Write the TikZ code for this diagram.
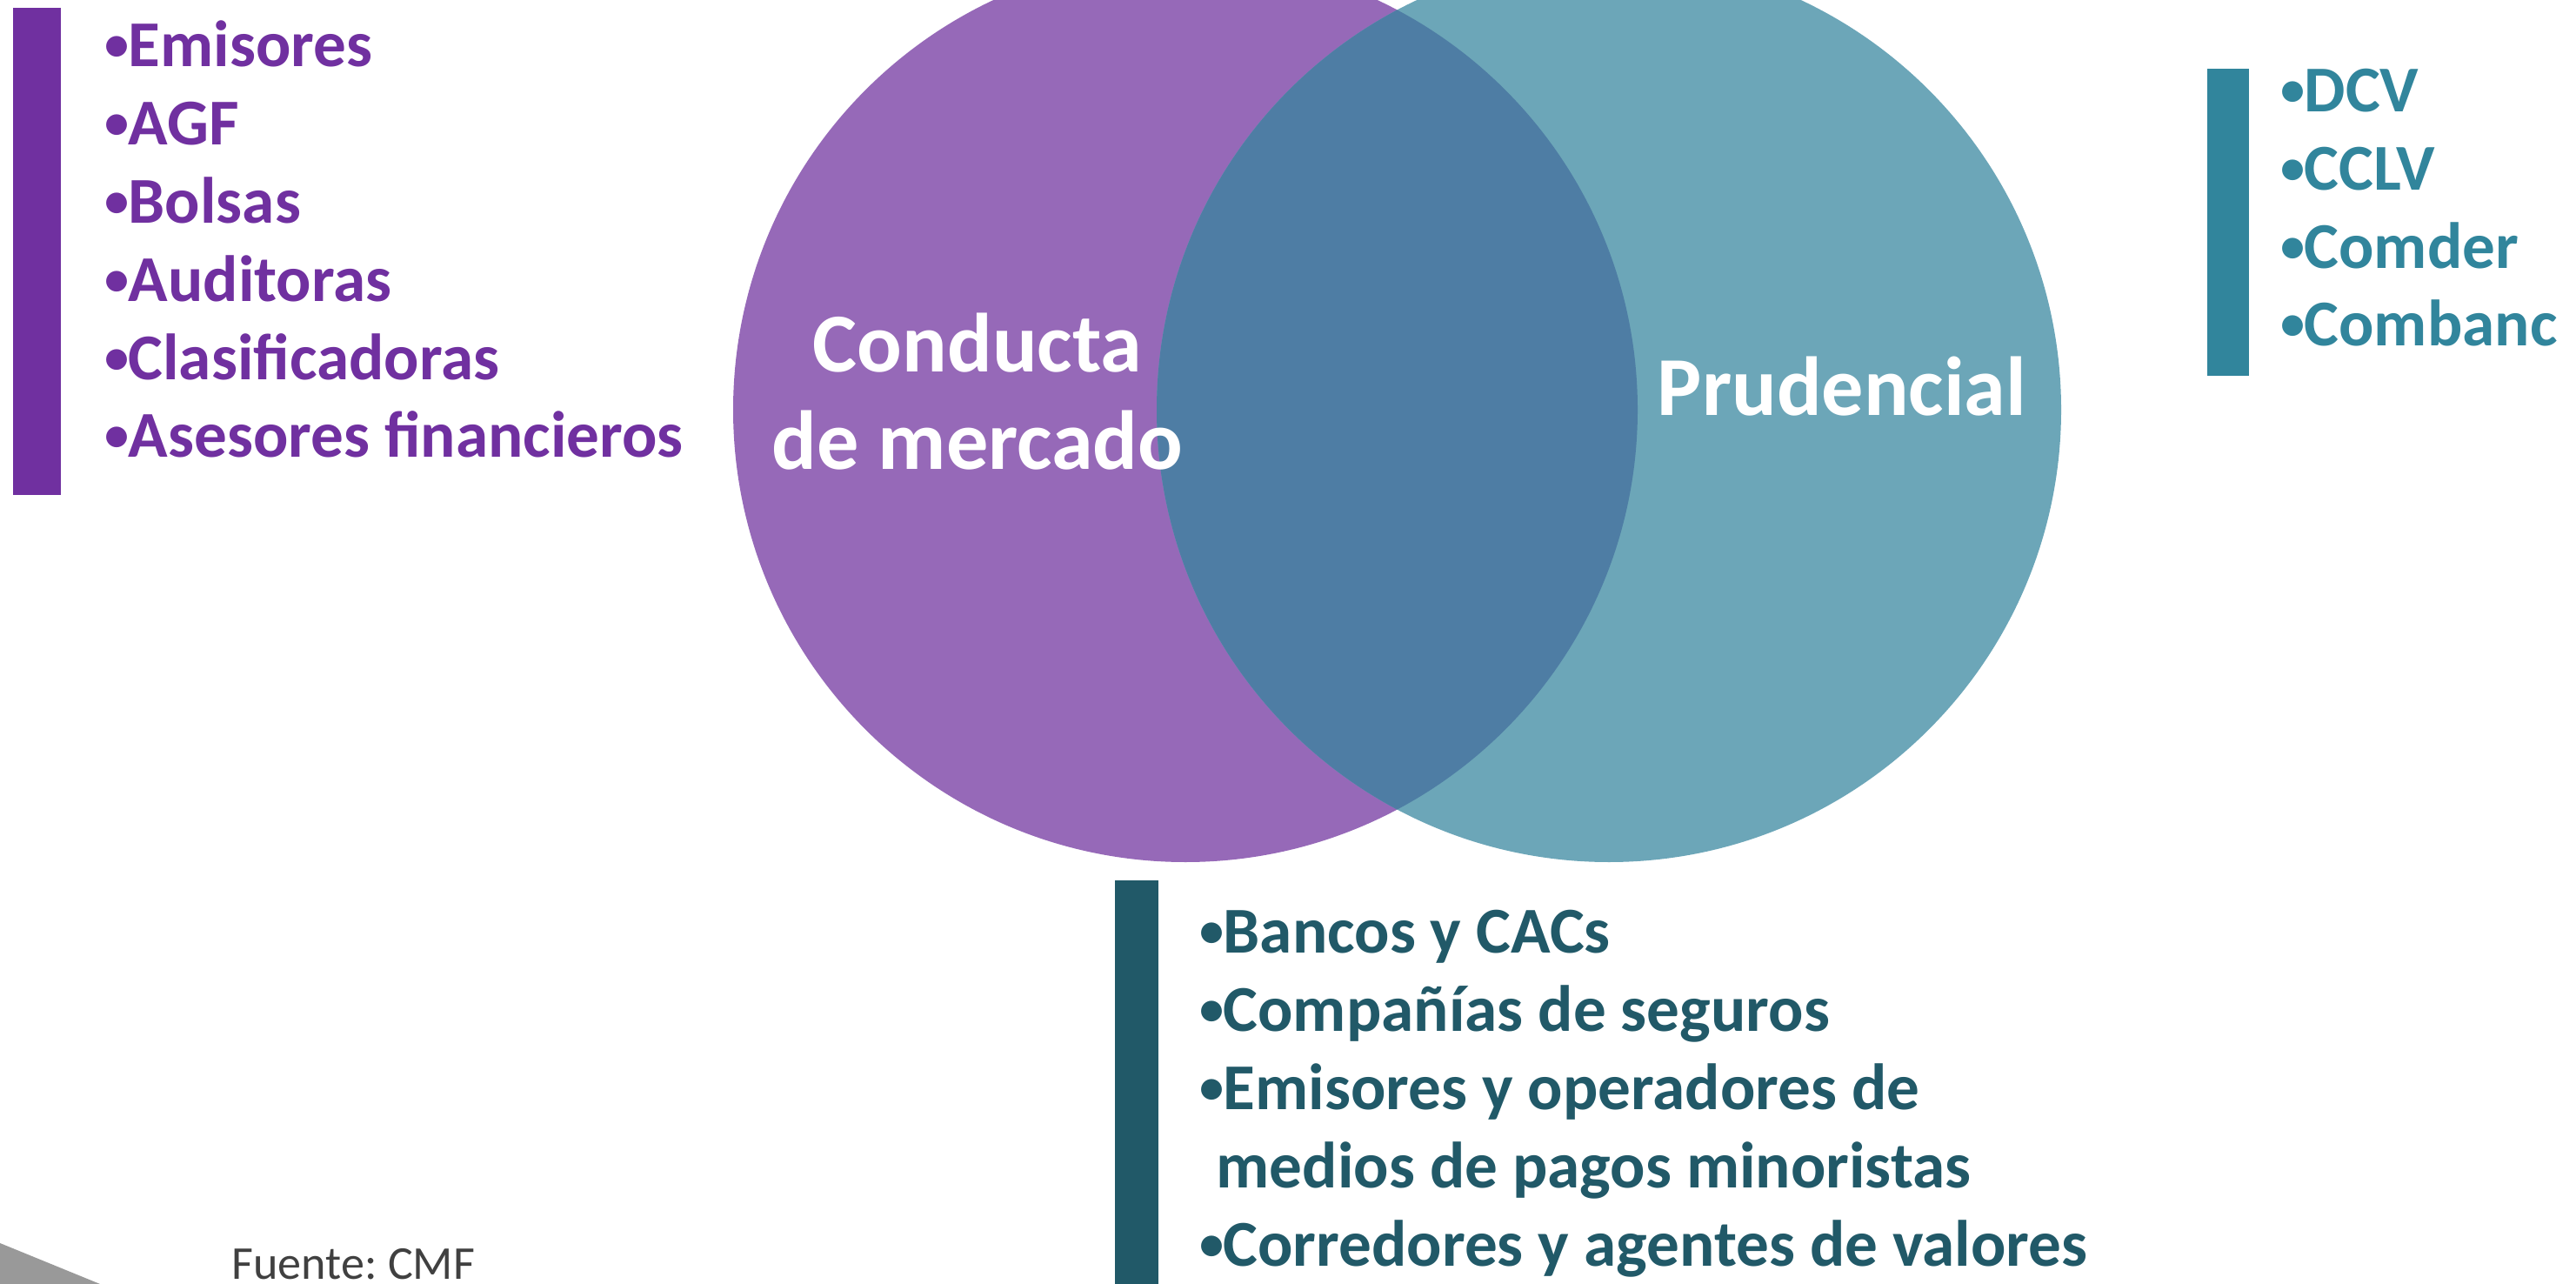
\documentclass[tikz,border=0pt]{standalone}
\usepackage{fontspec}
\setmainfont{Carlito}
\usepackage{tikz}
\usetikzlibrary{positioning}
\frenchspacing
\definecolor{conductatext}{HTML}{7030A0}
\definecolor{conductafill}{HTML}{9669B8}
\definecolor{prudencialtext}{HTML}{31859C}
\definecolor{prudencialfill}{HTML}{6CA6B8}
\definecolor{ambostext}{HTML}{215968}
\definecolor{ambosfill}{HTML}{4E7DA4}
\newcommand{\vineta}{\makebox[0.27cm][l]{\fontsize{16}{16}\selectfont\raisebox{0.07cm}{•}}}
\tikzstyle{bar} = [rectangle, inner sep=0pt, minimum width=0.5cm, anchor=north west]
\tikzstyle{lista} = [align=left, inner sep=0pt, anchor=base west, font=\bfseries\fontsize{21.4}{25.6}\selectfont]
\tikzstyle{circulo} = [circle, inner sep=0pt, minimum size=10.4cm]
\tikzstyle{etiqueta} = [align=center, inner sep=0pt, text=white, font=\bfseries\fontsize{27.4}{32}\selectfont]

\begin{document}
\begin{tikzpicture}
			\useasboundingbox (0,0) rectangle (29.62,-14.76);
			\clip (0,0) rectangle (29.62,-14.76);
			
			\node[circulo, fill=conductafill] (conducta) at (13.63,-4.71) {};
			\node[circulo, fill=prudencialfill] (prudencial) at (18.50,-4.71) {};
			\begin{scope}
				\clip (13.63,-4.71) circle (5.2);
				\fill[ambosfill] (18.50,-4.71) circle (5.2);
			\end{scope}
			\node[etiqueta, anchor=base] (tconducta) at (11.24,-5.40) {Conducta\\de mercado};
			\node[etiqueta, anchor=base] (tprudencial) at (21.18,-4.78) {Prudencial};
			
			\node[bar, fill=conductatext, minimum height=5.6cm, minimum width=0.55cm] (barconducta) at (0.14,-0.08) {};
			\node[lista, text=conductatext] (listaconducta) at (1.20,-5.26) {\vineta Emisores\\\vineta AGF\\\vineta Bolsas\\\vineta Auditoras\\\vineta Clasificadoras\\\vineta Asesores financieros};
			
			\node[bar, fill=prudencialtext, minimum height=3.53cm, minimum width=0.48cm] (barprudencial) at (25.37,-0.78) {};
			\node[lista, text=prudencialtext] (listaprudencial) at (26.22,-3.98) {\vineta DCV\\\vineta CCLV\\\vineta Comder\\\vineta Combanc};
			
			\node[bar, fill=ambostext, minimum height=4.8cm] (barambos) at (12.81,-10.11) {};
			\node[lista, text=ambostext] (listaambos) at (13.79,-14.55) {\vineta Bancos y CACs\\\vineta Compañías de seguros\\\vineta Emisores y operadores de\\\hspace{0.19cm}medios de pagos minoristas\\\vineta Corredores y agentes de valores};
			
			\fill[black!40] (0,-14.29) -- (1.15,-14.76) -- (0,-14.76) -- cycle;
			\node[anchor=base west, inner sep=0pt, text=black!75, font=\fontsize{15.4}{18}\selectfont] (fuente) at (2.66,-14.70) {Fuente: CMF};
		\end{tikzpicture}
\end{document}
